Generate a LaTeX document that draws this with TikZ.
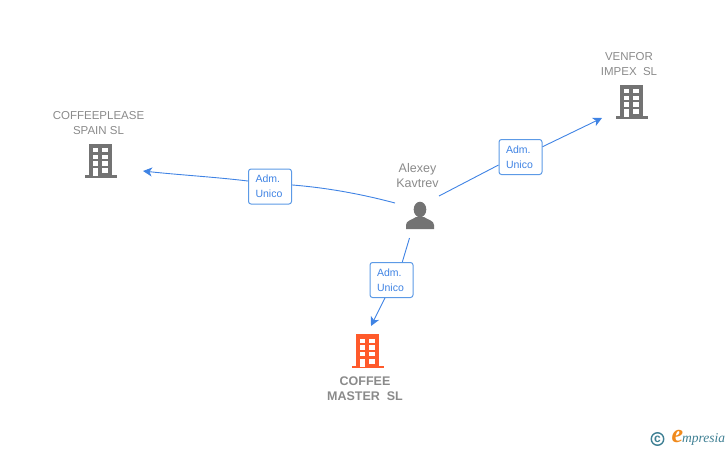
\documentclass[tikz,border=0pt]{standalone}
\usepackage{fontspec}
\setmainfont{Liberation Sans}
\newfontfamily\logofont{Liberation Serif}
\usetikzlibrary{positioning,arrows.meta}
\definecolor{linkblue}{HTML}{3F83E4}
\definecolor{boxblue}{HTML}{5C9AE6}
\definecolor{icongray}{HTML}{737373}
\definecolor{namegray}{HTML}{8A8A8A}
\definecolor{iconorange}{HTML}{FF5A2B}
\definecolor{logoteal}{HTML}{3E7F93}
\definecolor{logoorange}{HTML}{F08A1D}
\tikzset{
  link/.style={linkblue,line width=0.9pt},
  linkarrow/.style={link,-{Stealth[length=9pt,width=9pt,inset=2.5pt]}},
  admbox/.style={draw=boxblue,fill=white,line width=1pt,rounded corners=2.5pt,minimum width=43pt,minimum height=35pt,inner sep=0pt,text width=29pt,text=linkblue,font=\fontsize{10.5}{15}\selectfont,align=left},
  firm/.style={text=namegray,font=\fontsize{11.5}{15}\selectfont,align=center,inner sep=0pt},
  pics/building/.style={code={
      \fill[#1] (-11.5,-33.5) rectangle (11.5,-1);
      \fill[#1] (-16,-1.7) rectangle (16,0.8);
      \foreach \y in {-29,-22.3,-15.6}
        \foreach \x in {-7.6,1.9}
          \fill[white] (\x,\y) rectangle +(5.2,4.3);
      \fill[white] (-7.6,-9) rectangle (-2.4,-1);
      \fill[white] (1.9,-9) rectangle (7.1,-4);
  }}
}
\begin{document}
\begin{tikzpicture}[x=1pt,y=-1pt]
  \useasboundingbox (0,0) rectangle (728,450);

  % firms
  \pic (venforicon) at (631.5,118) {building=icongray};
  \pic (pleaseicon) at (100.5,177) {building=icongray};
  \pic (mastericon) at (367.5,367.5) {building=iconorange};
  \node[firm] (venfor) at (629,64.5) {VENFOR\\IMPEX\ \ SL};
  \node[firm] (please) at (98.5,123.5) {COFFEEPLEASE\\SPAIN SL};
  \node[firm,font=\fontsize{12.5}{15}\selectfont\bfseries] (master) at (365,389) {COFFEE\\MASTER\ \ SL};

  % person
  \fill[icongray] (420,209.5) ellipse (6.3 and 7.8);
  \fill[icongray] (406,229) -- (406,225) .. controls (406,220.5) and (412,220) .. (416,217) -- (424,217) .. controls (428,220) and (434,220.5) .. (434,225) -- (434,229) -- cycle;
  \node[text=namegray,font=\fontsize{12.5}{14.5}\selectfont,align=center,inner sep=0pt] (alexey) at (417.5,175.5) {Alexey\\Kavtrev};

  % links
  \node[admbox] (admleft) at (270,186.5) {Adm.\\Unico};
  \node[admbox] (admright) at (520.5,157) {Adm.\\Unico};
  \node[admbox] (admdown) at (391.5,280) {Adm.\\Unico};
  \coordinate (fromleft) at (395,203);
  \coordinate (fromright) at (439,196);
  \coordinate (fromdown) at (409.5,238);
  \coordinate (toleft) at (143,171);
  \coordinate (toright) at (602,118);
  \coordinate (todown) at (371,326);

  \draw[link] (fromleft) .. controls (365,195) and (330,188) .. (admleft.4);
  \draw[linkarrow] (admleft.166) .. controls (215,177) and (180,175) .. (toleft);
  \draw[link] (fromright) -- (admright.200);
  \draw[linkarrow] (admright.25) -- (toright);
  \draw[link] (fromdown) -- (admdown.59);
  \draw[linkarrow] (admdown.250) -- (todown);

  % logo
  \node[circle,draw=logoteal,line width=1.4pt,minimum size=12.5pt,inner sep=0pt,text=logoteal,font=\fontsize{12}{12}\selectfont\bfseries] (copymark) at (657.5,439) {c};
  \node[text=logoorange,font=\logofont\itshape\bfseries\fontsize{26}{26}\selectfont,inner sep=0pt] (logoe) at (677.5,436) {e};
  \node[text=logoteal,font=\logofont\itshape\fontsize{13.5}{13.5}\selectfont,inner sep=0pt,anchor=west] (logotext) at (682,439) {mpresia};
\end{tikzpicture}
\end{document}
